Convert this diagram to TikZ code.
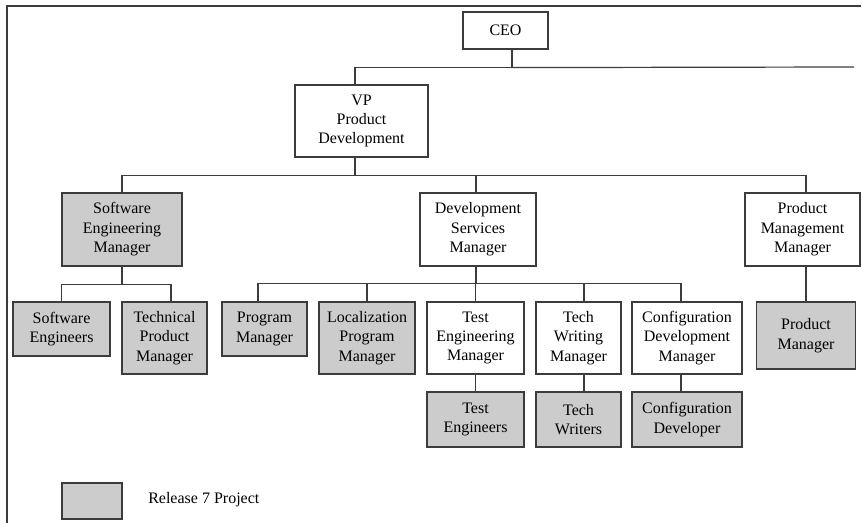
\documentclass[tikz,border=0pt]{standalone}
\usepackage{fontspec}
\setmainfont{Liberation Serif}
\definecolor{linec}{RGB}{60,60,60}
\definecolor{boxgray}{RGB}{204,204,204}
\begin{document}
\begin{tikzpicture}[x=0.75pt,y=-0.75pt,
  every node/.style={font=\fontsize{12}{14.6}\selectfont, align=center, inner sep=0pt, text=black},
  wbox/.style={draw=linec, line width=0.9pt, fill=white},
  gbox/.style={draw=linec, line width=0.9pt, fill=boxgray},
  sz/.style 2 args={minimum width=#1, minimum height=#2},
  conn/.style={draw=linec, line width=0.9pt}]
\useasboundingbox (0,0) rectangle (862,523);
% frame
\coordinate (fbl) at (7,523);
\coordinate (ftl) at (7,6);
\coordinate (ftr) at (861,6);
\draw[conn] (fbl) -- (ftl) -- (ftr);
% nodes
\node[wbox, sz={63.75pt}{27.75pt}] (ceo) at (505.5,30.5) {CEO};
\node[wbox, sz={99.75pt}{54pt}] (vp) at (361.5,121) {VP\\Product\\Development};
\node[gbox, sz={90pt}{54.75pt}] (sem) at (122,229.5) {Software\\Engineering\\Manager};
\node[wbox, sz={87pt}{54.75pt}] (dsm) at (478,229.5) {Development\\Services\\Manager};
\node[wbox, sz={86.25pt}{54.75pt}] (pmm) at (802.5,229.5) {Product\\Management\\Manager};
\node[gbox, sz={72.75pt}{40.5pt}] (se) at (61.5,329) {Software\\Engineers};
\node[gbox, sz={63.75pt}{54pt}] (tpm) at (164.5,338) {Technical\\Product\\Manager};
\node[gbox, sz={63.75pt}{40.5pt}] (pgm) at (264.5,329) {Program\\Manager};
\node[gbox, sz={72pt}{54pt}] (lpm) at (367,338) {Localization\\Program\\Manager};
\node[wbox, sz={72.75pt}{54pt}] (tem) at (475.5,338) {Test\\Engineering\\Manager};
\node[wbox, sz={63.75pt}{54pt}] (twm) at (578.5,338) {Tech\\Writing\\Manager};
\node[wbox, sz={82.5pt}{54pt}] (cdm) at (687,338) {Configuration\\Development\\Manager};
\node[gbox, sz={74.25pt}{50.25pt}] (pm) at (806,335.5) {Product\\Manager};
\node[gbox, sz={72.75pt}{41.25pt}] (te) at (475.5,419.5) {Test\\Engineers};
\node[gbox, sz={63.75pt}{41.25pt}] (tw) at (578.5,419.5) {Tech\\Writers};
\node[gbox, sz={82.5pt}{41.25pt}] (cd) at (687,419.5) {Configuration\\Developer};
\node[gbox, sz={45pt}{27pt}] (leg) at (92,501) {};
\node[anchor=west] (legt) at (148,500) {Release 7 Project};
% connectors
\coordinate (ceoR) at (854,67);
\draw[conn] ([xshift=4.875pt]ceo.south) -- ++(0,18) -| ([xshift=-4.875pt]vp.north);
\draw[conn] ([xshift=4.875pt]ceo.south) -- ++(0,18) -- (ceoR);
\draw[conn] ([xshift=-4.875pt]vp.south) -- ++(0,18) -| (sem.north);
\draw[conn] ([xshift=-4.875pt]vp.south) -- ++(0,18) -| ([xshift=-1.5pt]dsm.north);
\draw[conn] ([xshift=-4.875pt]vp.south) -- ++(0,18) -| ([xshift=2.625pt]pmm.north);
\draw[conn] (sem.south) -- ++(0,18) -| (se.north);
\draw[conn] (sem.south) -- ++(0,18) -| ([xshift=4.875pt]tpm.north);
\draw[conn] ([xshift=-1.5pt]dsm.south) -- ++(0,17) -| ([xshift=-4.875pt]pgm.north);
\draw[conn] ([xshift=-1.5pt]dsm.south) -- ++(0,17) -| (lpm.north);
\draw[conn] ([xshift=-1.5pt]dsm.south) -- ++(0,17) -| (tem.north);
\draw[conn] ([xshift=-1.5pt]dsm.south) -- ++(0,17) -| ([xshift=4.125pt]twm.north);
\draw[conn] ([xshift=-1.5pt]dsm.south) -- ++(0,17) -| ([xshift=-4.5pt]cdm.north);
\draw[conn] (pm.north |- pmm.south) -- (pm.north);
\draw[conn] (tem.south) -- (te.north);
\draw[conn] ([xshift=4.125pt]twm.south) -- ([xshift=4.125pt]tw.north);
\draw[conn] ([xshift=-4.5pt]cdm.south) -- ([xshift=-4.5pt]cd.north);
\end{tikzpicture}
\end{document}
